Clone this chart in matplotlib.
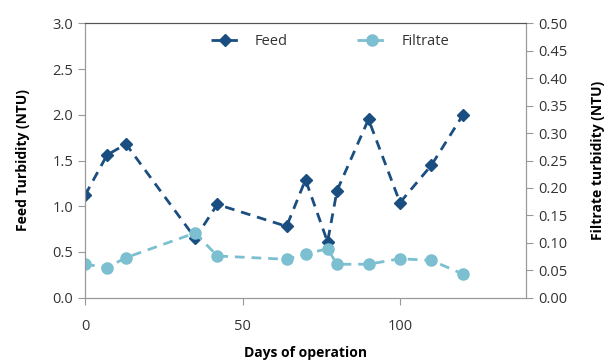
import matplotlib.pyplot as plt

plt.rcParams['font.family'] = ['Open Sans', 'DejaVu Sans']

# data
days = [0, 7, 13, 35, 42, 64, 70, 77, 80, 90, 100, 110, 120]
feed = [1.12, 1.56, 1.68, 0.65, 1.02, 0.78, 1.29, 0.61, 1.17, 1.95, 1.04, 1.45, 2.0]
filtrate = [0.061, 0.055, 0.073, 0.118, 0.076, 0.070, 0.080, 0.089,
            0.061, 0.061, 0.071, 0.068, 0.043]

left_ticks = [0.0, 0.5, 1.0, 1.5, 2.0, 2.5, 3.0]
right_ticks = [i * 0.05 for i in range(11)]
x_ticks = [0, 50, 100]

feed_col = "#1A4E80"
filt_col = "#7BBFD1"
spine_col = "#999999"

fig = plt.figure(figsize=(6.09, 3.62), dpi=100)
ax = fig.add_axes([0.1396, 0.1776, 0.7241, 0.758])
ax2 = ax.twinx()

l1, = ax.plot(days, feed, color=feed_col, lw=2.0, ls=(0, (3.5, 2.5)),
              marker="D", markersize=6.5, label="Feed")
l2, = ax2.plot(days, filtrate, color=filt_col, lw=2.0, ls=(0, (3.5, 2.5)),
               marker="o", markersize=8, label="Filtrate")

ax.set_xlim(0, 140)
ax.set_ylim(0, 3.0)
ax2.set_ylim(0, 0.5)
ax.set_xticks(x_ticks)
ax.set_yticks(left_ticks)
ax.set_yticklabels([f"{v:.1f}" for v in left_ticks])
ax2.set_yticks(right_ticks)
ax2.set_yticklabels([f"{v:.2f}" for v in right_ticks])

for a in (ax, ax2):
    for side in ("left", "right", "bottom"):
        a.spines[side].set_color(spine_col)
    a.spines["top"].set_color("#555555")
    a.tick_params(colors=spine_col, labelcolor="#333333", labelsize=10.5,
                  length=5, direction="out")
ax.tick_params(axis="x", pad=10)

ax.set_xlabel("Days of operation", fontsize=10, fontweight="bold", labelpad=9)
ax.set_ylabel("Feed Turbidity (NTU)", fontsize=10, fontweight="bold", labelpad=16)
ax2.set_ylabel("Filtrate turbidity (NTU)", fontsize=10, fontweight="bold", labelpad=17)

ax.legend(handles=[l1, l2], loc="upper center", bbox_to_anchor=(0.555, 1.01),
          ncol=2, frameon=False, fontsize=10.5, handlelength=2.0,
          handletextpad=1.0, columnspacing=4.8, labelcolor="#333333")

fig.savefig("out.png", dpi=100)
